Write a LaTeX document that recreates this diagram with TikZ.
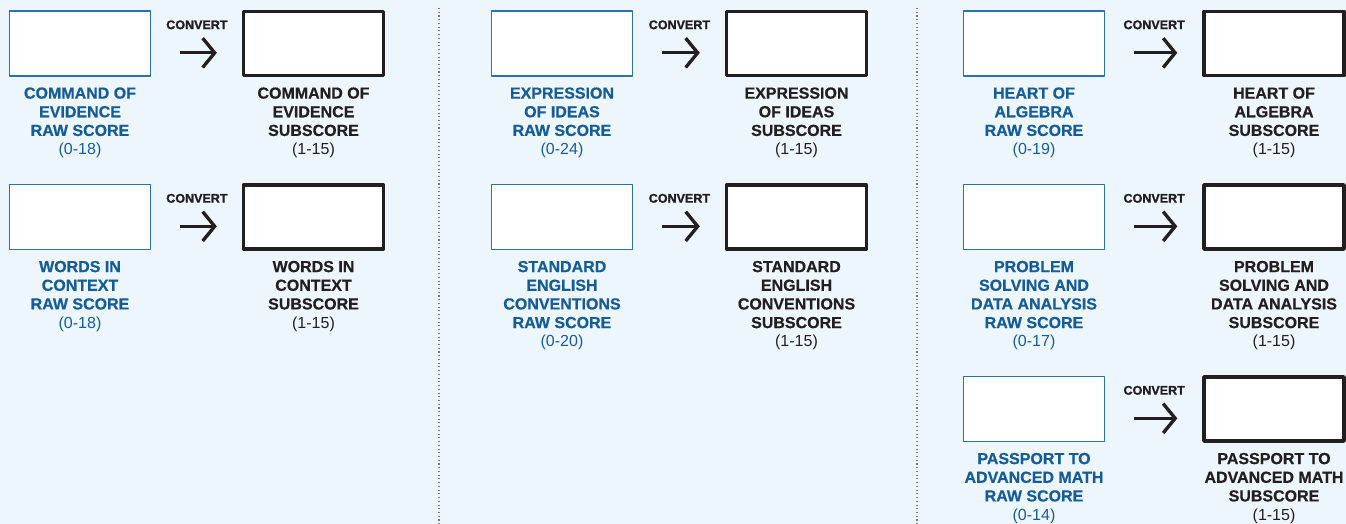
\documentclass[tikz,border=0pt]{standalone}
\usepackage{fontspec}
\setmainfont{Liberation Sans}[BoldFeatures={FakeBold=0.6}]
\newfontfamily\convfont{Liberation Sans Bold}[FakeBold=1.4]
\usetikzlibrary{arrows.meta}
\definecolor{bgblue}{HTML}{EEF6FD}
\definecolor{rawblue}{HTML}{165D98}
\definecolor{rawline}{HTML}{2A72AE}
\definecolor{subblack}{HTML}{231F20}
\definecolor{divgray}{HTML}{7A7A7A}
\tikzset{
  rawbox/.style={draw=rawline, line width=1.1pt, fill=white, minimum width=105.5pt, minimum height=48.5pt, inner sep=0pt, outer sep=0pt},
  subbox/.style={draw=subblack, line width=2.6pt, fill=white, minimum width=105pt, minimum height=48pt, inner sep=0pt, outer sep=0pt},
  rawlabel/.style={anchor=north, align=center, inner sep=0pt, text=rawblue, font=\fontsize{12}{14}\selectfont\bfseries},
  sublabel/.style={anchor=north, align=center, inner sep=0pt, text=subblack, font=\fontsize{12}{14}\selectfont\bfseries},
  convarrow/.style={draw=subblack, line width=2.5pt, shorten <=22.5pt, shorten >=20pt, -{Straight Barb[length=9pt,width=22pt]}},
  convlabel/.style={midway, yshift=21pt, inner sep=0pt, text=subblack, font=\convfont\fontsize{9.4}{11}\selectfont},
  divider/.style={draw=divgray, line width=0.8pt, dotted}
}
\begin{document}
\begin{tikzpicture}[x=0.75pt,y=-0.75pt, line join=round, line cap=butt]
  \fill[bgblue] (0,0) rectangle (1346,524);
  \useasboundingbox (0,0) rectangle (1346,524);
  % column dividers
  \draw[divider] (439,8) -- (439,524);
  \draw[divider] (917,8) -- (917,524);
  % raw score -> subscore
  \foreach \i/\px/\py/\sx/\rawtext/\range/\subtext in {
      1/80/43.5/313.5/{COMMAND OF\\EVIDENCE\\RAW SCORE}/{(0-18)}/{COMMAND OF\\EVIDENCE\\SUBSCORE},
      2/80/217/313.5/{WORDS IN\\CONTEXT\\RAW SCORE}/{(0-18)}/{WORDS IN\\CONTEXT\\SUBSCORE},
      3/562/43.5/796.5/{EXPRESSION\\OF IDEAS\\RAW SCORE}/{(0-24)}/{EXPRESSION\\OF IDEAS\\SUBSCORE},
      4/562/217/796.5/{STANDARD\\ENGLISH\\CONVENTIONS\\RAW SCORE}/{(0-20)}/{STANDARD\\ENGLISH\\CONVENTIONS\\SUBSCORE},
      5/1034/43.5/1274/{HEART OF\\ALGEBRA\\RAW SCORE}/{(0-19)}/{HEART OF\\ALGEBRA\\SUBSCORE},
      6/1034/217/1274/{PROBLEM\\SOLVING AND\\DATA ANALYSIS\\RAW SCORE}/{(0-17)}/{PROBLEM\\SOLVING AND\\DATA ANALYSIS\\SUBSCORE},
      7/1034/409/1274/{PASSPORT TO\\ADVANCED MATH\\RAW SCORE}/{(0-14)}/{PASSPORT TO\\ADVANCED MATH\\SUBSCORE}}{
    \node[rawbox] (raw\i) at (\px,\py) {};
    \node[subbox] (sub\i) at (\sx,\py) {};
    \node[rawlabel, yshift=-8.5pt] (rawlab\i) at (raw\i.south) {\rawtext\\\mdseries\range};
    \node[sublabel, yshift=-8.5pt] (sublab\i) at (raw\i.south -| sub\i.south) {\subtext\\\mdseries(1-15)};
    \draw[convarrow] ([yshift=-7pt]raw\i.east) -- node[convlabel]{CONVERT} ([yshift=-7pt]sub\i.west);
  }
\end{tikzpicture}
\end{document}
